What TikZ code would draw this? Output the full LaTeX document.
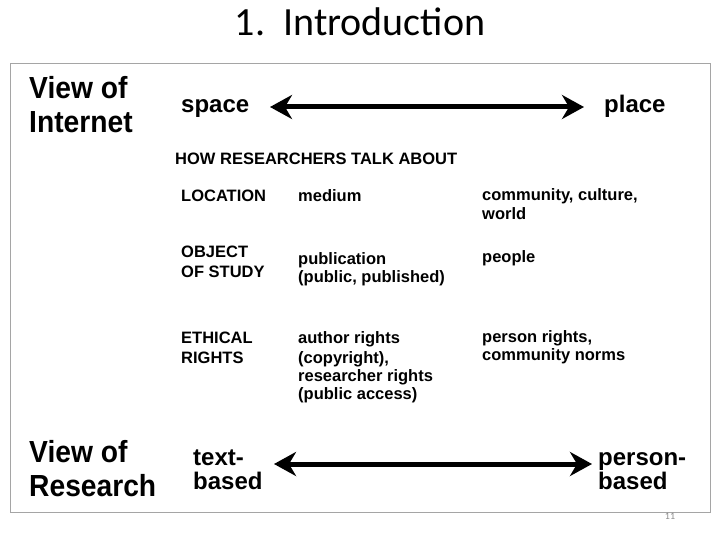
\documentclass[tikz,border=0pt]{standalone}
\usepackage{fontspec}
\setmainfont{Liberation Sans}
\newfontfamily\titlefont{Carlito}
\newfontfamily\condfont[FakeStretch=0.925]{Liberation Sans}
\usetikzlibrary{arrows.meta}
\definecolor{framegray}{RGB}{165,165,165}
\definecolor{numgray}{RGB}{140,140,140}
\tikzset{
  big/.style={anchor=base west, inner sep=0pt, font=\condfont\fontsize{30.5}{34}\selectfont\bfseries, align=left},
  mid/.style={anchor=base west, inner sep=0pt, font=\fontsize{24}{23.5}\selectfont\bfseries, align=left},
  small/.style={anchor=base west, inner sep=0pt, font=\fontsize{16.5}{18}\selectfont\bfseries, align=left},
  dbl/.style={line width=5pt, {Stealth[length=22pt,width=24pt,inset=7pt]}-{Stealth[length=22pt,width=24pt,inset=7pt]}}
}
\begin{document}
\begin{tikzpicture}[x=1pt,y=-1pt]
\useasboundingbox (0,0) rectangle (720,540);
\node[anchor=base, inner sep=0pt, font=\titlefont\fontsize{40}{44}\selectfont] (title) at (360,36) {1.\ \ Introduction};
\draw[framegray, line width=1pt] (10,64) rectangle (710,512);
% top section (base anchor = baseline of last line)
\node[big] (vi) at (29,133) {View of\\Internet};
\node[mid] (space) at (181,113) {space};
\node[mid] (place) at (604,113) {place};
\coordinate (a1) at (270,107);
\coordinate (b1) at (584,107);
\draw[dbl] (a1) -- (b1);
\node[small] (how) at (175,165) {HOW RESEARCHERS TALK ABOUT};
\node[small] (loc) at (181,202) {LOCATION};
\node[small] (med) at (298,202) {medium};
\node[small] (comm) at (482,219) {community, culture,\\world};
\node[small] (obj) at (181,277) {OBJECT\\[2pt]OF STUDY};
\node[small] (pub) at (298,282) {publication\\(public, published)};
\node[small] (peo) at (482,262) {people};
\node[small] (eth) at (181,363) {ETHICAL\\[2pt]RIGHTS};
\node[small] (auth) at (298,399) {author rights\\[2pt](copyright),\\researcher rights\\(public access)};
\node[small] (pers) at (482,360) {person rights,\\community norms};
% bottom section
\node[big] (vr) at (29,496) {View of\\Research};
\node[mid] (text) at (193,489) {text-\\based};
\node[mid] (person) at (598,489) {person-\\based};
\coordinate (a2) at (274,464);
\coordinate (b2) at (592,464);
\draw[dbl] (a2) -- (b2);
\node[anchor=base, inner sep=0pt, text=numgray, font=\titlefont\fontsize{10}{12}\selectfont] (num) at (670,519) {11};
\end{tikzpicture}
\end{document}
